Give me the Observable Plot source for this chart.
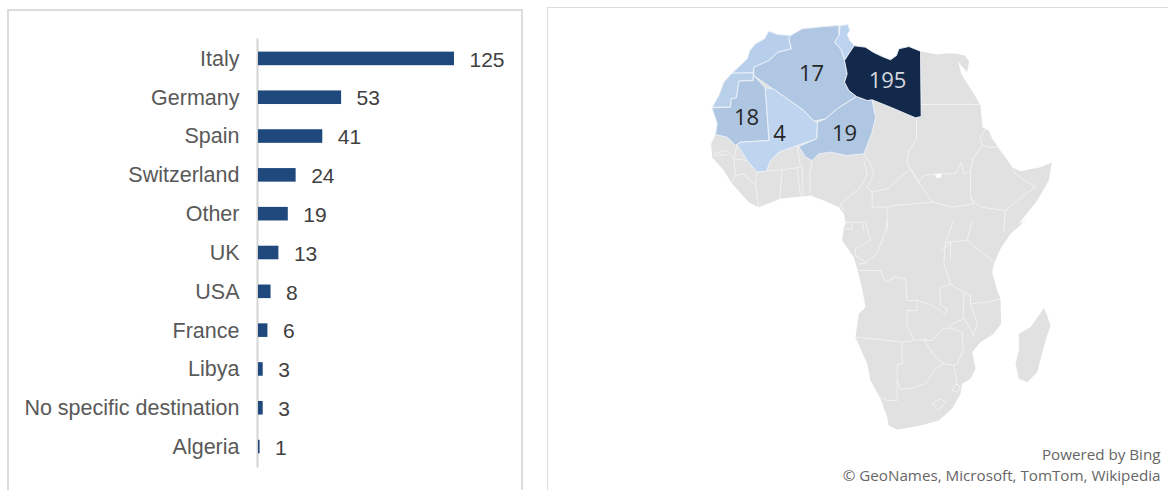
<!DOCTYPE html>
<html><head><meta charset="utf-8">
<script src="https://cdn.jsdelivr.net/npm/d3@7"></script>
<script src="https://cdn.jsdelivr.net/npm/@observablehq/plot@0.6"></script>
<style>
html,body{margin:0;padding:0;background:#fff;width:1168px;height:490px;overflow:hidden}
.panel{position:absolute;box-sizing:border-box;border:2px solid #dcdcdc;background:#fff}
#left{left:7px;top:9px;width:516px;height:520px}
#right{left:547px;top:7px;width:660px;height:520px;border-width:1px}
#barChart,#mapChart{position:absolute;top:0}
#barChart{left:8px}#mapChart{left:548px}
svg{display:block;background:transparent!important}
</style></head><body>
<div class="panel" id="left"></div><div class="panel" id="right"></div>
<div id="barChart"></div><div id="mapChart"></div>
<script>
const destinations = ["Italy","Germany","Spain","Switzerland","Other","UK","USA","France","Libya","No specific destination","Algeria"];
const departures = [125,53,41,24,19,13,8,6,3,3,1];

const mapLabels = ["17","195","18","4","19"];
const mapLabelX = [811,887,746,779,844];
const mapLabelY = [73,80,117,133,133];
const attribution = ["Powered by Bing","© GeoNames, Microsoft, TomTom, Wikipedia"];

// Outlines; two tracing sheets, converted to map units.
const north = pts => pts.map(([x,y]) => [690+x/3, 10+y/3]);
const south = pts => pts.map(([x,y]) => [780+x/3, 220+y/3]);

const continent = [
 ...north([[235,62],[262,72],[300,75],[335,55],[400,48],[445,45],[472,42],[478,60],[470,72],[478,90],[492,105],[525,110],[548,125],[575,138],[600,148],[618,135],[625,115],[655,108],[690,122],[740,132],[775,128],[800,130],[822,135],[836,152],[830,185],[812,165],[803,150],[812,190],[850,250],[870,285],[876,350],[895,360],[905,385],[945,440],[965,470],[990,482],[1050,470],[1084,456],[1075,510],[1040,570],[985,640],[940,665]]),
 ...south([[735,0],[690,40],[660,85],[640,130],[635,155],[650,210],[660,235],[662,310],[640,340],[600,365],[575,395],[585,445],[570,475],[545,490],[540,520],[515,565],[475,600],[420,615],[350,628],[325,615],[320,590],[300,535],[270,480],[260,430],[225,350],[235,280],[255,260],[245,205],[230,145],[220,110],[185,60],[190,20]]),
 ...north([[465,640],[460,610],[445,590],[400,570],[360,555],[270,565],[205,590],[175,575],[125,520],[100,480],[65,440],[62,400],[75,372],[80,340],[65,290],[85,255],[100,215],[125,188],[170,145],[178,120],[195,100],[222,85]])
];
const madagascar = south([[790,262],[800,285],[810,315],[795,360],[770,455],[740,485],[715,475],[705,430],[715,390],[715,340],[750,320],[775,285]]);
const lakeSudd = north([[734,492],[752,490],[752,502],[736,502]]);

const tunisia = north([[450,45],[472,42],[478,60],[470,72],[478,90],[492,105],[478,125],[462,150],[452,118],[432,95],[445,75]]);
const algeria = north([[300,75],[335,55],[400,48],[445,45],[445,75],[432,95],[452,118],[462,150],[470,190],[462,215],[475,240],[498,258],[440,295],[405,325],[370,332],[340,300],[190,195],[190,170],[235,150],[262,125],[302,115],[295,85]]);
const morocco = north([[235,62],[262,72],[300,75],[295,85],[302,115],[262,125],[235,150],[190,170],[188,187],[125,188],[170,145],[178,120],[195,100],[222,85]]);
const westernSahara = north([[125,188],[188,187],[188,210],[145,212],[138,262],[122,265],[120,290],[65,290],[85,255],[100,215]]);
const mauritania = north([[65,292],[120,290],[122,265],[138,262],[145,212],[188,210],[190,195],[222,230],[225,232],[235,390],[150,395],[135,405],[110,380],[75,372],[80,340]]);
const mali = north([[225,232],[248,235],[340,300],[370,332],[382,335],[378,385],[320,405],[265,425],[240,450],[228,482],[200,485],[170,450],[140,402],[150,395],[235,390]]);
const niger = north([[382,335],[405,325],[440,295],[498,258],[530,270],[545,268],[555,320],[545,365],[520,430],[470,435],[420,425],[385,430],[365,450],[345,440],[325,408],[378,385]]);
const libya = north([[492,106],[525,110],[548,125],[575,138],[600,148],[618,135],[625,115],[655,108],[690,122],[692,318],[675,322],[600,290],[545,268],[530,270],[498,258],[475,240],[462,215],[470,190],[462,150],[478,125]]);

const borders = [
 north([[692,282],[870,282]]),
 north([[678,322],[678,388],[655,420],[650,460],[685,515]]),
 north([[520,430],[540,460],[550,490],[530,530],[545,545],[590,535],[660,475],[685,515]]),
 north([[685,515],[700,495],[745,490],[795,490],[812,455],[820,490],[840,480]]),
 north([[840,480],[850,440],[875,405],[895,410],[920,410],[945,440]]),
 north([[875,405],[870,380],[885,355]]),
 north([[965,470],[975,490],[1035,530],[985,565],[945,600],[940,660]]),
 north([[840,560],[870,590],[945,600]]),
 north([[685,515],[725,575],[790,590],[850,580],[840,560],[840,480]]),
 north([[545,545],[545,590],[590,590],[610,585],[725,575]]),
 north([[520,450],[530,490],[510,530],[450,580],[460,600]]),
 north([[365,450],[358,490],[358,555]]),
 north([[335,470],[338,555]]),
 north([[320,470],[330,555]]),
 north([[320,405],[330,470],[275,478],[268,565]]),
 north([[228,482],[275,478]]),
 north([[200,485],[195,520],[205,590]]),
 north([[125,515],[135,495],[160,490],[190,520]]),
 north([[170,450],[130,445],[110,420],[70,430]]),
 north([[140,402],[130,445],[135,495]]),
 north([[70,435],[110,432]]),
 north([[465,635],[515,635],[520,660]]),
 north([[590,590],[590,660]]),
 south([[190,5],[215,5],[215,25],[190,25]]),
 south([[255,5],[270,60],[225,85],[225,105],[255,125],[290,100],[315,30],[320,0]]),
 south([[235,130],[260,130]]),
 south([[235,150],[300,150],[315,185],[345,170],[375,175],[380,240],[410,240],[410,270],[380,270],[380,320],[400,355]]),
 south([[225,350],[280,355],[365,365],[400,360],[440,355]]),
 south([[365,365],[365,430],[350,432],[350,540],[320,540],[300,530]]),
 south([[350,480],[360,505],[385,505],[435,490],[465,445],[490,430],[520,435]]),
 south([[430,360],[465,410],[490,430]]),
 south([[430,360],[455,360],[485,325],[510,322],[545,335],[548,390],[530,430],[520,435],[530,490],[545,505]]),
 south([[505,315],[550,295]]),
 south([[410,240],[445,250],[480,270],[495,282],[500,265],[480,255],[478,200],[510,192],[550,215],[548,290]]),
 south([[550,215],[570,225],[570,250],[590,310],[578,345],[565,315],[548,290]]),
 south([[570,250],[620,245],[660,235]]),
 south([[510,192],[490,130],[495,65],[560,60],[640,125]]),
 south([[560,60],[575,0]]),
 south([[495,65],[520,0]]),
 south([[485,90],[510,65],[510,115]]),
 south([[525,490],[540,500],[530,515],[515,510],[525,490]]),
 south([[455,550],[480,535],[495,545],[475,570],[455,550]])
];

const coloured = {Tunisia:tunisia,Algeria:algeria,Morocco:morocco,"Western Sahara":westernSahara,Mauritania:mauritania,Mali:mali,Niger:niger,Libya:libya};
const flat = (name,pts) => pts.map(([x,y]) => ({name,x,y}));
const colouredPts = Object.entries(coloured).flatMap(([n,p]) => flat(n,p));
const greyPts = [...flat("Africa",continent),...flat("Madagascar",madagascar)];
const borderPts = borders.flatMap((b,i) => flat("b"+i,b));

const barRows = destinations.map((d,i) => ({d,v:departures[i]}));
document.getElementById("barChart").append(Plot.plot({
  width:515,height:490,marginLeft:249,marginTop:39,marginBottom:24,marginRight:10,
  style:{background:"transparent",fontFamily:"'Liberation Sans',Arial,sans-serif"},
  x:{domain:[0,125],range:[250,446],axis:null},
  y:{domain:destinations,paddingInner:0.65,paddingOuter:0.325,round:false,label:null},
  marks:[
    Plot.axisY({tickSize:0,tickPadding:18,fontSize:21.5,color:"#595959",label:null,marginLeft:249}),
    Plot.frame({anchor:"left",stroke:"#d4d4d4",strokeWidth:2}),
    Plot.barX(barRows,{x:"v",y:"d",fill:"#1f497d"}),
    Plot.text(barRows,{x:"v",y:"d",text:d=>String(d.v),textAnchor:"start",dx:15,dy:1,fontSize:21,fill:"#404040"})
  ]
}));

document.getElementById("mapChart").append(Plot.plot({
  width:620,height:490,margin:0,
  style:{background:"transparent",fontFamily:"'Open Sans','Noto Sans',sans-serif"},
  x:{domain:[548,1168],axis:null},
  y:{domain:[0,490],range:[0,490],axis:null},
  color:{domain:["Tunisia","Algeria","Morocco","Western Sahara","Mauritania","Mali","Niger","Libya"],
         range:["#bcd3ef","#afc7e2","#b7cfea","#b9d0eb","#aec6e1","#bed4ef","#afc7e2","#13294b"]},
  marks:[
    Plot.line(greyPts,{x:"x",y:"y",z:"name",fill:"#e1e1e1",stroke:"none",curve:"linear-closed"}),
    Plot.line(borderPts,{x:"x",y:"y",z:"name",stroke:"#f3f3f3",strokeWidth:0.9,fill:"none"}),
    Plot.line(flat("lake",lakeSudd),{x:"x",y:"y",fill:"#ffffff",stroke:"none",curve:"linear-closed"}),
    Plot.line(colouredPts,{x:"x",y:"y",z:"name",fill:"name",stroke:"#eef3f9",strokeWidth:0.9,curve:"linear-closed"}),
    Plot.text(mapLabels,{x:(d,i)=>mapLabelX[i],y:(d,i)=>mapLabelY[i],text:d=>d,fontSize:22,fill:d=>d==="195"?"#d5d9df":"#262626"}),
    Plot.text(attribution,{x:()=>1160,y:(d,i)=>[455,476][i],text:d=>d,textAnchor:"end",fontSize:15.2,fill:"#666666"})
  ]
}));
</script>
</body></html>
